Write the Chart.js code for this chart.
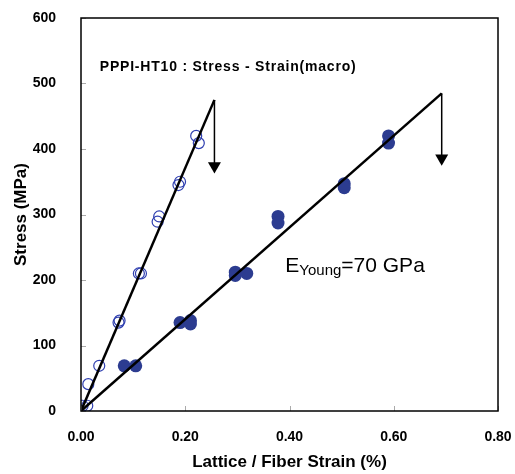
<!DOCTYPE html>
<html>
<head>
<meta charset="utf-8">
<script src="https://cdn.jsdelivr.net/npm/chart.js@4.4.1/dist/chart.umd.min.js"></script>
<style>
  html, body { margin: 0; padding: 0; background: #fff; }
  #wrap { width: 515px; height: 474px; }
</style>
</head>
<body>
<div id="wrap"><canvas id="chart"></canvas></div>
<script>
// Open circles (fiber / macro strain)
const openStrain = [0.003, 0.012, 0.014, 0.035, 0.072, 0.074, 0.111, 0.115, 0.147, 0.150, 0.187, 0.190, 0.221, 0.226];
const openStress = [8, 8, 41, 69, 135, 138, 210, 210, 289, 297, 345, 350, 420, 409];

// Filled circles (lattice strain)
const filledStrain = [0.083, 0.105, 0.190, 0.210, 0.210, 0.296, 0.296, 0.318, 0.378, 0.378, 0.505, 0.505, 0.590, 0.590];
const filledStress = [69, 69, 135, 138, 133, 212, 207, 210, 297, 287, 347, 341, 420, 409];

// Fit lines (origin -> end point) and failure arrows
const fitFiberX = [0, 0.256];
const fitFiberY = [0, 475];
const fitLatticeX = [0, 0.692];
const fitLatticeY = [0, 485];
const arrowFiberX = [0.256, 0.256];
const arrowFiberY = [475, 374];
const arrowLatticeX = [0.692, 0.692];
const arrowLatticeY = [485, 386];

const xTicks = [0, 0.2, 0.4, 0.6, 0.8];
const yTicks = [0, 100, 200, 300, 400, 500, 600];

const pts = (xs, ys) => xs.map((x, i) => ({ x: x, y: ys[i] }));
const FONT = 'Liberation Sans, Arial, sans-serif';

// frame, inner tick marks and the two text notes
const decor = {
  id: 'decor',
  afterDraw(chart) {
    const { ctx, chartArea: a, scales } = chart;
    const xs = scales.x, ys = scales.y;
    ctx.save();
    ctx.strokeStyle = '#aaa';
    ctx.lineWidth = 1;
    xTicks.forEach(v => {
      const px = Math.round(xs.getPixelForValue(v)) + 0.5;
      ctx.beginPath(); ctx.moveTo(px, a.bottom); ctx.lineTo(px, a.bottom - 5); ctx.stroke();
    });
    yTicks.forEach(v => {
      const py = Math.round(ys.getPixelForValue(v)) + 0.5;
      ctx.beginPath(); ctx.moveTo(a.left, py); ctx.lineTo(a.left + 5, py); ctx.stroke();
    });
    ctx.strokeStyle = '#000';
    ctx.lineWidth = 1.5;
    ctx.strokeRect(a.left, a.top, a.right - a.left, a.bottom - a.top);

    ctx.fillStyle = '#000';
    ctx.textBaseline = 'alphabetic';
    ctx.font = 'bold 14px ' + FONT;
    ctx.letterSpacing = '0.8px';
    ctx.fillText('PPPI-HT10 : Stress - Strain(macro)', xs.getPixelForValue(0.036), ys.getPixelForValue(519));
    ctx.letterSpacing = '0px';

    let tx = xs.getPixelForValue(0.392);
    const ty = ys.getPixelForValue(212);
    ctx.font = '21px ' + FONT;
    ctx.fillText('E', tx, ty);
    tx += ctx.measureText('E').width;
    ctx.font = '15px ' + FONT;
    ctx.fillText('Young', tx, ty + 3);
    tx += ctx.measureText('Young').width;
    ctx.font = '21px ' + FONT;
    ctx.fillText('=70 GPa', tx, ty);
    ctx.restore();
  }
};

new Chart(document.getElementById('chart'), {
  type: 'scatter',
  data: {
    datasets: [
      {
        label: 'fit fiber', data: pts(fitFiberX, fitFiberY), showLine: true,
        borderColor: '#000', borderWidth: 2.5, pointRadius: 0
      },
      {
        label: 'fit lattice', data: pts(fitLatticeX, fitLatticeY), showLine: true,
        borderColor: '#000', borderWidth: 2.5, pointRadius: 0
      },
      {
        label: 'arrow fiber', data: pts(arrowFiberX, arrowFiberY), showLine: true,
        borderColor: '#000', borderWidth: 1.5, backgroundColor: '#000',
        pointStyle: 'triangle', pointRotation: 180, pointRadius: [0, 7.5], pointBorderWidth: 0
      },
      {
        label: 'arrow lattice', data: pts(arrowLatticeX, arrowLatticeY), showLine: true,
        borderColor: '#000', borderWidth: 1.5, backgroundColor: '#000',
        pointStyle: 'triangle', pointRotation: 180, pointRadius: [0, 7.5], pointBorderWidth: 0
      },
      {
        label: 'macro', data: pts(openStrain, openStress),
        pointStyle: 'circle', pointRadius: 5.5, pointBorderWidth: 1.2,
        borderColor: '#2f3fb0', backgroundColor: 'rgba(255,255,255,0)'
      },
      {
        label: 'lattice', data: pts(filledStrain, filledStress),
        pointStyle: 'circle', pointRadius: 6.5, pointBorderWidth: 0,
        borderColor: '#2c3c90', backgroundColor: '#2c3c90'
      }
    ]
  },
  options: {
    responsive: true,
    maintainAspectRatio: false,
    animation: false,
    layout: { padding: { top: 18, right: 17, left: 0, bottom: 0 } },
    plugins: { legend: { display: false }, tooltip: { enabled: false } },
    scales: {
      x: {
        type: 'linear', min: 0, max: 0.8,
        afterBuildTicks: s => { s.ticks = xTicks.map(v => ({ value: v })); },
        afterFit: s => { s.height = 63; s.paddingLeft = 0; s.paddingRight = 0; },
        grid: { display: false },
        border: { display: false },
        ticks: {
          color: '#000', padding: 10,
          font: { family: FONT, size: 14, weight: 'bold' },
          callback: v => v.toFixed(2)
        },
        title: {
          display: true, text: 'Lattice / Fiber Strain (%)', color: '#000',
          font: { family: FONT, size: 17, weight: 'bold' },
          padding: { top: 0, bottom: 1 }
        }
      },
      y: {
        type: 'linear', min: 0, max: 600,
        afterBuildTicks: s => { s.ticks = yTicks.map(v => ({ value: v })); },
        afterFit: s => { s.width = 81; s.paddingTop = 0; s.paddingBottom = 0; },
        grid: { display: false },
        border: { display: false },
        ticks: {
          color: '#000', padding: 17,
          font: { family: FONT, size: 14, weight: 'bold' }
        },
        title: {
          display: true, text: 'Stress (MPa)', color: '#000',
          font: { family: FONT, size: 17, weight: 'bold' },
          padding: { top: 11, bottom: 0 }
        }
      }
    }
  },
  plugins: [decor]
});
</script>
</body>
</html>
